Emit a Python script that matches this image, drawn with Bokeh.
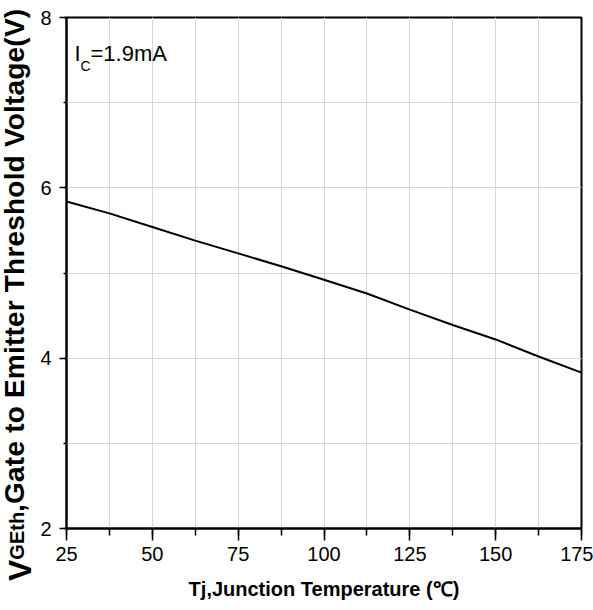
from bokeh.plotting import figure
from bokeh.layouts import row
from bokeh.models import Label, Range1d, SingleIntervalTicker, Div
from bokeh.embed import file_html
from bokeh.resources import INLINE

# ---- data ----
temps = [25, 37.5, 50, 62.5, 75, 87.5, 100, 112.5, 125, 137.5, 150, 162.5, 175]
vgeth = [5.84, 5.70, 5.54, 5.38, 5.23, 5.08, 4.92, 4.76, 4.57, 4.39, 4.22, 4.02, 3.83]
x_range = (25, 175)
y_range = (2, 8)
x_label = "Tj,Junction Temperature (℃)"
y_label_main = "V"
y_label_sub = "GEth"
y_label_rest = ",Gate to Emitter Threshold Voltage(V)"
cond_main = "I"
cond_sub = "C"
cond_rest = "=1.9mA"

FONT = "Liberation Sans"
LEFT_W = 36

# ---- rotated y-axis title (mixed sizes) as real HTML text ----
y_title_html = (
    '<div style="position:relative;width:%dpx;height:610px;">'
    '<div style="position:absolute;left:1.3px;top:581px;transform:rotate(-90deg);'
    'transform-origin:0 0;white-space:nowrap;font-family:\'%s\';font-weight:bold;'
    'color:black;font-size:28px;line-height:28px;margin:0;padding:0;">'
    '<span style="font-size:32px;vertical-align:-7px;">%s</span>'
    '<span style="font-size:20px;">%s</span>'
    '<span style="letter-spacing:0.2px;">%s</span>'
    '</div></div>'
) % (LEFT_W, FONT, y_label_main, y_label_sub, y_label_rest)
side = Div(text=y_title_html, width=LEFT_W, height=610, margin=0)

# ---- main chart ----
p = figure(width=593 - LEFT_W, height=610, output_backend="svg", toolbar_location=None,
           x_range=Range1d(*x_range), y_range=Range1d(*y_range),
           min_border_left=66 - LEFT_W, min_border_right=12, min_border_top=17, min_border_bottom=82)
p.background_fill_color = "white"
p.border_fill_color = "white"
p.outline_line_color = "black"
p.outline_line_width = 2

p.line(temps, vgeth, line_color="black", line_width=2)

p.xaxis.ticker = SingleIntervalTicker(interval=25, num_minor_ticks=2)
p.yaxis.ticker = SingleIntervalTicker(interval=2, num_minor_ticks=2)
for ax in (p.xaxis[0], p.yaxis[0]):
    ax.axis_line_color = "black"
    ax.axis_line_width = 2
    ax.major_tick_line_color = "black"
    ax.major_tick_line_width = 1.5
    ax.minor_tick_line_color = "black"
    ax.minor_tick_line_width = 1.5
    ax.major_label_text_font = FONT
    ax.major_label_text_font_size = "20px"
    ax.major_label_text_color = "black"
    ax.major_tick_in = 0
    ax.minor_tick_in = 0

p.xaxis.major_tick_out = 12
p.xaxis.minor_tick_out = 7
p.xaxis.major_label_standoff = 6
p.yaxis.major_tick_out = 7
p.yaxis.minor_tick_out = 3
p.yaxis.major_label_standoff = 8

p.xaxis.axis_label = x_label
p.xaxis.axis_label_text_font = FONT
p.xaxis.axis_label_text_font_style = "bold"
p.xaxis.axis_label_text_font_size = "20px"
p.xaxis.axis_label_text_color = "black"
p.xaxis.axis_label_standoff = 14

for g in (p.xgrid[0], p.ygrid[0]):
    g.grid_line_color = "#d6d6d6"
    g.grid_line_width = 1
    g.minor_grid_line_color = "#d6d6d6"
    g.minor_grid_line_width = 1

# condition text inside the frame
p.add_layout(Label(x=8, y=475, x_units="screen", y_units="screen", text=cond_main,
                   text_font=FONT, text_font_size="22px", text_align="left",
                   text_baseline="alphabetic", text_color="black"))
p.add_layout(Label(x=14, y=463, x_units="screen", y_units="screen", text=cond_sub,
                   text_font=FONT, text_font_size="14px", text_align="left",
                   text_baseline="alphabetic", text_color="black"))
p.add_layout(Label(x=24, y=475, x_units="screen", y_units="screen", text=cond_rest,
                   text_font=FONT, text_font_size="22px", text_align="left",
                   text_baseline="alphabetic", text_color="black"))

layout = row(side, p, spacing=0)
open("out.html", "w").write(file_html(layout, INLINE))
